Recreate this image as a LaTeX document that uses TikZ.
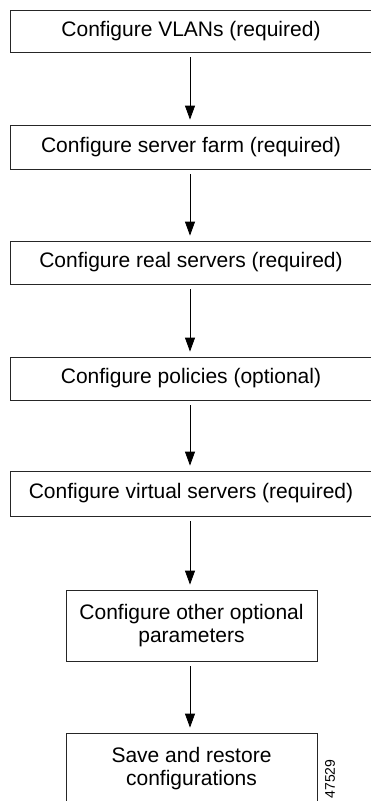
\documentclass[tikz,border=0pt]{standalone}
\usepackage{fontspec}
\setmainfont{Liberation Sans}
\usetikzlibrary{arrows.meta}
\begin{document}
\begin{tikzpicture}[x=1pt,y=-1pt,
  box/.style={draw=black!85,line width=0.8pt,inner sep=0pt,align=center,
    font=\fontsize{21}{23}\selectfont},
  flow/.style={line width=0.8pt,-{Triangle[length=14pt,width=10pt]},
    shorten <=5pt,shorten >=5pt}]
\useasboundingbox (0,0) rectangle (371,801);
\fill[white] (0,0) rectangle (371,801);
\coordinate (c) at (190,0);
\node[box,minimum width=362pt,minimum height=42pt] (b1) at (191,31) {Configure VLANs (required)};
\node[box,minimum width=362pt,minimum height=44pt] (b2) at (191,147) {Configure server farm (required)};
\node[box,minimum width=362pt,minimum height=43pt] (b3) at (191,262.5) {Configure real servers (required)};
\node[box,minimum width=362pt,minimum height=43pt] (b4) at (191,378.5) {Configure policies (optional)};
\node[box,minimum width=362pt,minimum height=45pt] (b5) at (191,493.5) {Configure virtual servers (required)};
\node[box,minimum width=251pt,minimum height=71pt] (b6) at (191.5,625.5) {Configure other optional\\parameters};
\node[box,minimum width=251pt,minimum height=71pt] (b7) at (191.5,768.5) {Save and restore\\configurations};
\node[rotate=90,font=\fontsize{14}{14}\selectfont,inner sep=0pt] (id) at (330,779) {47529};
\draw[flow] (b1.south -| c) -- (b2.north -| c);
\draw[flow] (b2.south -| c) -- (b3.north -| c);
\draw[flow] (b3.south -| c) -- (b4.north -| c);
\draw[flow] (b4.south -| c) -- (b5.north -| c);
\draw[flow] (b5.south -| c) -- (b6.north -| c);
\draw[flow] (b6.south -| c) -- (b7.north -| c);
\end{tikzpicture}
\end{document}
